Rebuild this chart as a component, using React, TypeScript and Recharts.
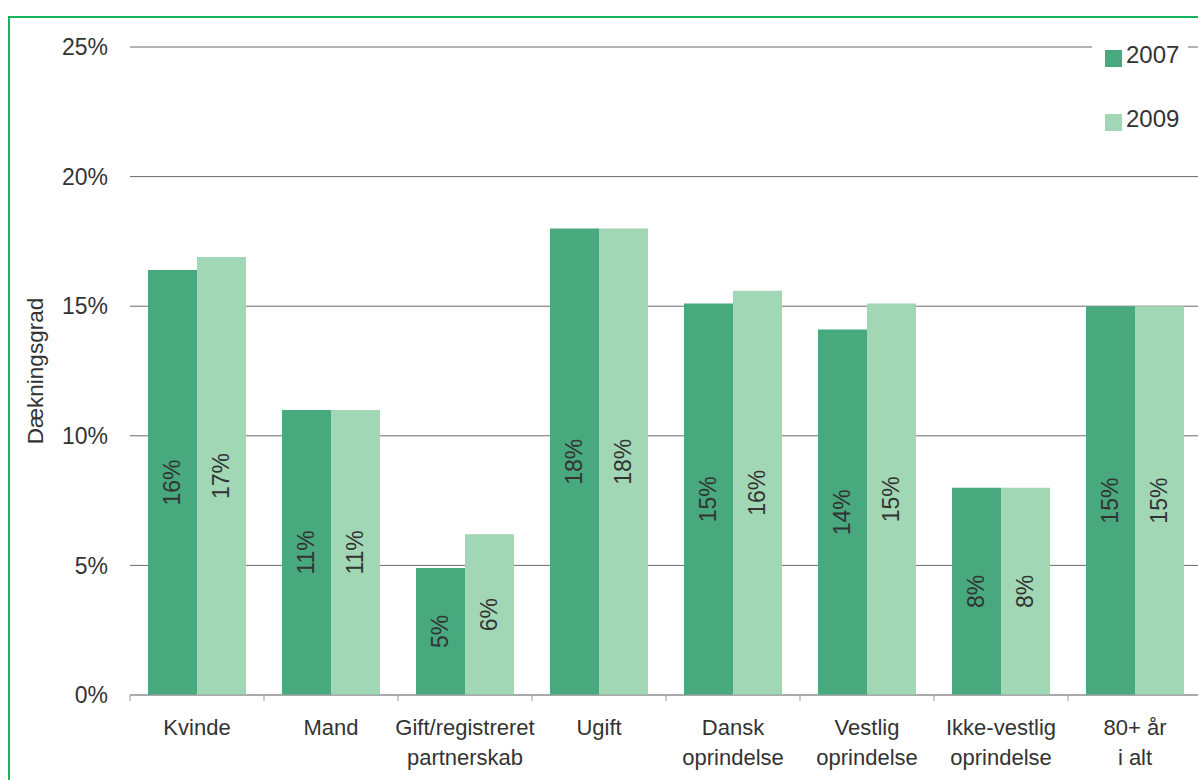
import React from 'react';
import { BarChart, Bar, XAxis, YAxis, CartesianGrid, LabelList } from 'recharts';

const categories = [
  'Kvinde',
  'Mand',
  'Gift/registreret\npartnerskab',
  'Ugift',
  'Dansk\noprindelse',
  'Vestlig\noprindelse',
  'Ikke-vestlig\noprindelse',
  '80+ år\ni alt',
];
const values2007 = [16.4, 11.0, 4.9, 18.0, 15.1, 14.1, 8.0, 15.0];
const values2009 = [16.9, 11.0, 6.2, 18.0, 15.6, 15.1, 8.0, 15.0];
const yTicks = [0, 5, 10, 15, 20, 25];
const seriesNames = ['2007', '2009'];
const seriesColors = ['#48a87e', '#a2d7b5'];

const data = categories.map((name, i) => ({
  name,
  y2007: values2007[i],
  y2009: values2009[i],
}));

const CHART_W = 1220;
const CHART_H = 780;
const X_AXIS_H = 30;
const MARGIN = { top: 47, right: 18, bottom: 85 - X_AXIS_H, left: 0 };
const Y_AXIS_W = 130;
const HALF_BAND = (CHART_W - MARGIN.right - Y_AXIS_W) / categories.length / 2;
const FONT = '"Liberation Sans", Arial, sans-serif';

const CategoryTick = (props: any) => {
  const { x, y, payload, index } = props;
  const lines = String(payload.value).split('\n');
  return (
    <g>
      <line x1={x - HALF_BAND} y1={y} x2={x - HALF_BAND} y2={y + 6} stroke="#999" />
      {index === categories.length - 1 && (
        <line x1={x + HALF_BAND} y1={y} x2={x + HALF_BAND} y2={y + 6} stroke="#999" />
      )}
      {lines.map((line, i) => (
        <text
          key={i}
          x={x}
          y={y + 32 + i * 30}
          textAnchor="middle"
          dominantBaseline="central"
          fill="#333"
          fontSize={22}
          fontFamily={FONT}
        >
          {line}
        </text>
      ))}
    </g>
  );
};

const RotatedLabel = (props: any) => {
  const { x, y, width, height, value } = props;
  const cx = x + width / 2;
  const cy = y + height / 2;
  return (
    <text
      x={cx}
      y={cy}
      transform={`rotate(-90, ${cx}, ${cy})`}
      textAnchor="middle"
      dominantBaseline="central"
      fill="#333"
      fontSize={23}
      fontFamily={FONT}
    >
      {`${Math.round(value)}%`}
    </text>
  );
};

export default function App() {
  return (
    <div
      style={{
        position: 'absolute',
        left: 0,
        top: 0,
        width: 1198,
        height: 780,
        overflow: 'hidden',
        background: '#fff',
        fontFamily: FONT,
      }}
    >
      <div
        style={{
          position: 'absolute',
          left: 8,
          top: 16,
          width: 1300,
          height: 900,
          border: '2px solid #14b65c',
        }}
      />
      <div style={{ position: 'absolute', left: 0, top: 0 }}>
        <BarChart width={CHART_W} height={CHART_H} data={data} margin={MARGIN} barCategoryGap={18} barGap={0}>
          <CartesianGrid vertical={false} stroke="#6a6a6a" />
          <XAxis
            dataKey="name"
            height={X_AXIS_H}
            tick={<CategoryTick />}
            tickLine={false}
            tickSize={0}
            tickMargin={0}
            axisLine={{ stroke: '#a0a0a0' }}
            interval={0}
          />
          <YAxis
            width={Y_AXIS_W}
            domain={[0, 25]}
            ticks={yTicks}
            tickFormatter={(v: number) => `${v}%`}
            axisLine={false}
            tickLine={false}
            tickSize={0}
            tickMargin={22}
            tick={{ fill: '#333', fontSize: 23, fontFamily: FONT }}
            label={{
              value: 'Dækningsgrad',
              angle: -90,
              position: 'insideLeft',
              dx: 30,
              style: { fill: '#333', fontSize: 22.5, fontFamily: FONT, textAnchor: 'middle' },
            }}
          />
          <Bar dataKey="y2007" name={seriesNames[0]} fill={seriesColors[0]} isAnimationActive={false}>
            <LabelList dataKey="y2007" content={<RotatedLabel />} />
          </Bar>
          <Bar dataKey="y2009" name={seriesNames[1]} fill={seriesColors[1]} isAnimationActive={false}>
            <LabelList dataKey="y2009" content={<RotatedLabel />} />
          </Bar>
        </BarChart>
      </div>
      <div
        style={{
          position: 'absolute',
          left: 1092,
          top: 34,
          width: 96,
          height: 108,
          background: '#fff',
        }}
      >
        {seriesNames.map((name, i) => (
          <div
            key={name}
            style={{
              position: 'absolute',
              left: 13,
              top: 6 + i * 64,
              display: 'flex',
              alignItems: 'center',
              height: 30,
            }}
          >
            <span
              style={{
                display: 'inline-block',
                width: 17,
                height: 17,
                background: seriesColors[i],
                marginRight: 4,
                marginTop: 6,
              }}
            />
            <span style={{ fontSize: 24, color: '#333' }}>{name}</span>
          </div>
        ))}
      </div>
    </div>
  );
}
